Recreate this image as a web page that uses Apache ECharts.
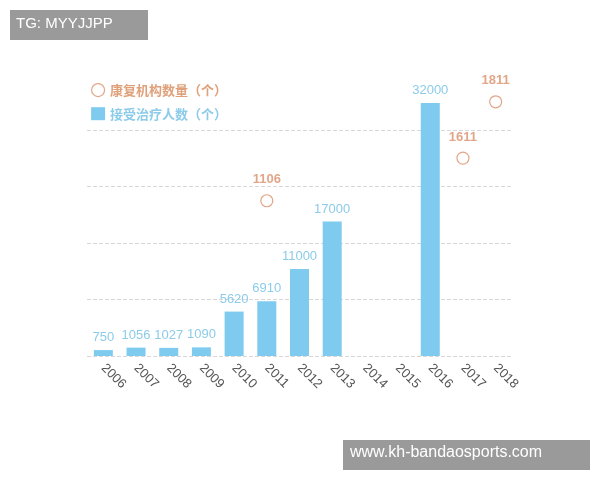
<!DOCTYPE html><html><head><meta charset="utf-8"><script src="https://cdn.jsdelivr.net/npm/echarts@6/dist/echarts.min.js"></script></head><body style="margin:0"><div id="c" style="width:600px;height:480px"></div><script>
const years=['2006','2007','2008','2009','2010','2011','2012','2013','2014','2015','2016','2017','2018'];
const patients=[750,1056,1027,1090,5620,6910,11000,17000,null,null,32000,null,null];
const institutions=[null,null,null,null,null,1106,null,null,null,null,null,1611,1811];
const institutionsPos=[null,null,null,null,null,1106,null,null,null,null,null,1410,1811];
const f='"Noto Sans CJK SC","Noto Sans",sans-serif';
const ch=echarts.init(document.getElementById('c'));
ch.setOption({
 animation:false,
 grid:{left:87,right:88,top:130,bottom:124},
 legend:{left:86,top:78,orient:'vertical',itemGap:10,itemWidth:14,itemHeight:13,textStyle:{fontFamily:f,fontSize:13,fontWeight:'bold'},
  data:[{name:'康复机构数量（个）',icon:'circle',itemStyle:{color:'#fff',borderColor:'#d9906a',borderWidth:1.2},textStyle:{color:'#e0a07a'}},
        {name:'接受治疗人数（个）',icon:'rect',textStyle:{color:'#8ccbea'}}]},
 xAxis:{type:'category',data:years,axisLine:{show:false},axisTick:{show:false},
  axisLabel:{rotate:-45,color:'#555',fontSize:13,fontFamily:'Liberation Sans',margin:10}},
 yAxis:[{type:'value',min:0,max:28585,interval:7146.25,axisLabel:{show:false},axisLine:{show:false},axisTick:{show:false},
  splitLine:{lineStyle:{type:'dashed',color:'#d8d8d8'}}},
  {type:'value',min:0,max:1610,show:false,splitLine:{show:false}}],
 series:[
  {name:'接受治疗人数（个）',type:'bar',data:patients,barWidth:19,clip:false,itemStyle:{color:'#7ecbef'},
   label:{show:true,position:'top',color:'#8ccbea',fontSize:13,fontFamily:'Liberation Sans',distance:6}},
  {name:'康复机构数量（个）',type:'scatter',yAxisIndex:1,clip:false,symbol:'circle',symbolSize:12,
   data:institutionsPos.map((v,i)=>v==null?null:{value:v,label:{formatter:String(institutions[i])}}),
   itemStyle:{color:'#fff',borderColor:'#d9906a',borderWidth:1.2},
   label:{show:true,position:'top',distance:8,color:'#d9906a',fontWeight:'bold',fontSize:13,fontFamily:'Liberation Sans'}}
 ],
 graphic:[
  {type:'rect',shape:{x:10,y:10,width:138,height:30},style:{fill:'#9a9a9a'}},
  {type:'text',left:16,top:16,style:{text:'TG: MYYJJPP',fill:'#fff',fontSize:15,fontFamily:'Liberation Sans'}},
  {type:'rect',shape:{x:343,y:440,width:247,height:30},style:{fill:'#9a9a9a'}},
  {type:'text',left:350,top:445,style:{text:'www.kh-bandaosports.com',fill:'#fff',fontSize:16,fontFamily:'Liberation Sans'}}
 ]
});
</script></body></html>
